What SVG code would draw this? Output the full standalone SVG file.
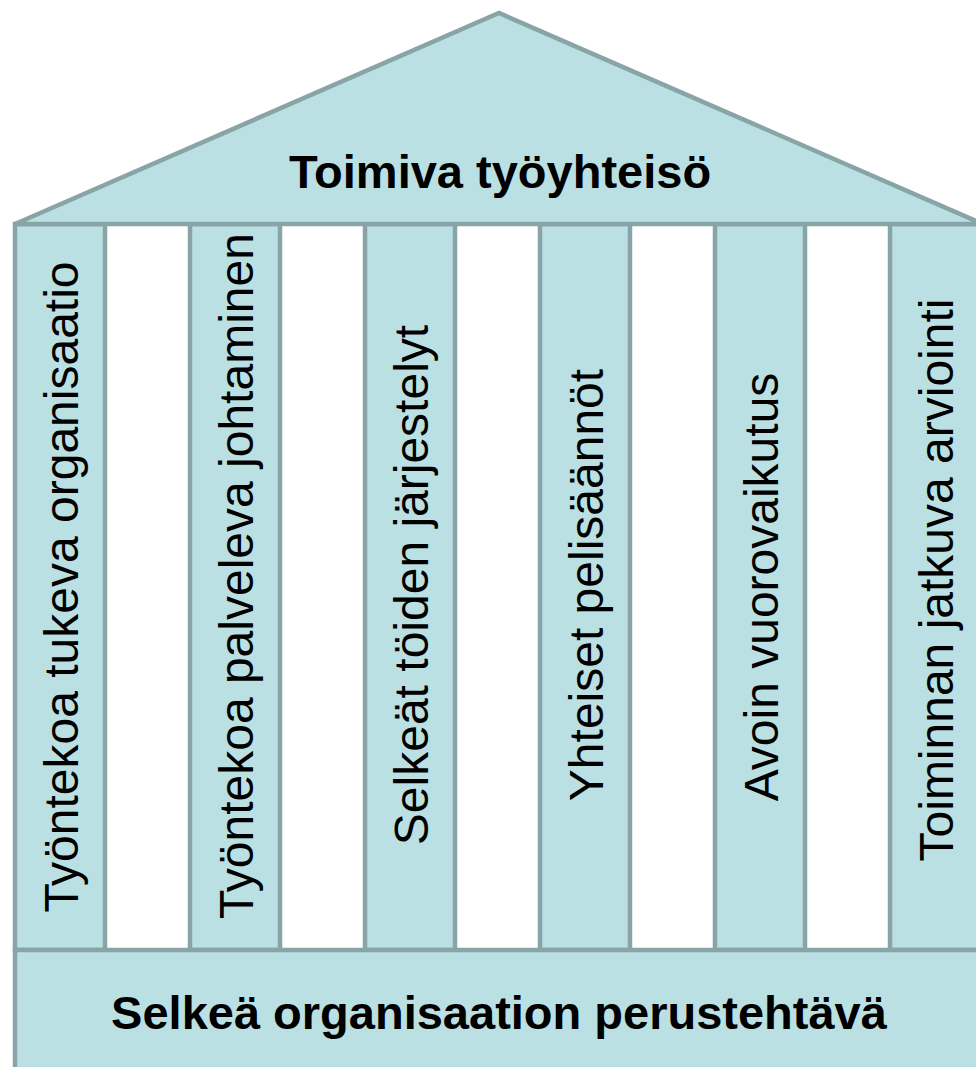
<svg xmlns="http://www.w3.org/2000/svg" width="976" height="1067" viewBox="0 0 976 1067">
<style>
.part{fill:#BAE0E3;stroke:#88A4A6;stroke-width:4.5}
.lbl{font-family:"Liberation Sans",Arial,sans-serif;font-size:48px;fill:#000;text-anchor:middle}
.ttl{font-family:"Liberation Sans",Arial,sans-serif;font-size:47px;font-weight:bold;fill:#000;text-anchor:middle}
</style>
<rect width="976" height="1067" fill="#fff"/>
<g id="pillars">
<g id="pillar1"><rect class="part" x="15" y="224" width="90" height="726"/><text class="lbl" transform="translate(78,587) rotate(-90)">Työntekoa tukeva organisaatio</text></g>
<g id="pillar2"><rect class="part" x="190" y="224" width="90" height="726"/><text class="lbl" transform="translate(253,576) rotate(-90)">Työntekoa palveleva johtaminen</text></g>
<g id="pillar3"><rect class="part" x="365" y="224" width="90" height="726"/><text class="lbl" transform="translate(428,585) rotate(-90)">Selkeät töiden järjestelyt</text></g>
<g id="pillar4"><rect class="part" x="540" y="224" width="90" height="726"/><text class="lbl" transform="translate(603,585) rotate(-90)">Yhteiset pelisäännöt</text></g>
<g id="pillar5"><rect class="part" x="715" y="224" width="90" height="726"/><text class="lbl" transform="translate(778,587) rotate(-90)">Avoin vuorovaikutus</text></g>
<g id="pillar6"><rect class="part" x="890" y="224" width="100" height="726"/><text class="lbl" transform="translate(953,580) rotate(-90)">Toiminnan jatkuva arviointi</text></g>
</g>
<g id="roof"><polygon class="part" points="15,224 499,13 983,224"/><text class="ttl" x="500" y="188">Toimiva työyhteisö</text></g>
<g id="base"><rect class="part" x="15" y="950" width="980" height="140"/><text class="ttl" x="499" y="1029">Selkeä organisaation perustehtävä</text></g>
<g id="connectors"/>
</svg>
